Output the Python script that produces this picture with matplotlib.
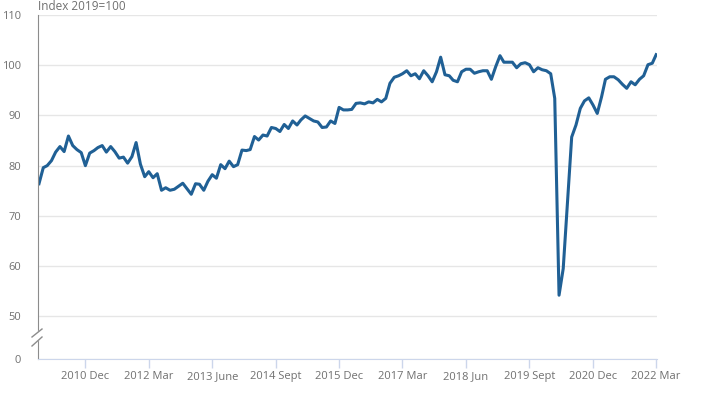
import numpy as np
import pandas as pd
import matplotlib
matplotlib.use("Agg")
import matplotlib.pyplot as plt

plt.rcParams['font.family'] = ['Open Sans', 'DejaVu Sans']

# monthly index, Jan 2010 - Mar 2022 (2019=100)
values = [
    76.4, 79.6, 80.0, 81.0, 82.7, 83.8, 82.8, 85.9, 84.0, 83.2, 82.6, 80.0,
    82.5, 83.0, 83.6, 84.0, 82.7, 83.8, 82.8, 81.5, 81.7, 80.5, 81.8, 84.6,
    80.3, 77.8, 78.8, 77.6, 78.4, 75.1, 75.6, 75.1, 75.3, 75.9, 76.5, 75.4,
    74.3, 76.4, 76.3, 75.1, 76.9, 78.2, 77.5, 80.2, 79.4, 80.9, 79.8, 80.2,
    83.1, 83.0, 83.2, 85.8, 85.1, 86.1, 85.9, 87.6, 87.4, 86.8, 88.2, 87.4,
    88.9, 88.1, 89.1, 89.9, 89.4, 88.9, 88.7, 87.6, 87.7, 88.9, 88.4, 91.6,
    91.1, 91.1, 91.2, 92.4, 92.5, 92.3, 92.7, 92.5, 93.2, 92.7, 93.4, 96.4,
    97.6, 97.9, 98.3, 98.9, 97.9, 98.3, 97.3, 98.9, 97.9, 96.7, 98.7, 101.6,
    98.1, 97.9, 97.0, 96.7, 98.7, 99.2, 99.2, 98.4, 98.7, 98.9, 98.9, 97.2,
    99.7, 101.9, 100.6, 100.6, 100.6, 99.5, 100.3, 100.5, 100.1, 98.7, 99.5, 99.1,
    98.9, 98.3, 93.4, 54.2, 59.5, 72.8, 85.7, 88.1, 91.4, 92.9, 93.5, 92.1,
    90.4, 93.7, 97.2, 97.7, 97.7, 97.1, 96.2, 95.4, 96.7, 96.1, 97.2, 97.9,
    100.1, 100.4, 102.1,
]
months = pd.date_range('2010-01-01', periods=len(values), freq='MS')

tick_dates = ['2010-12', '2012-03', '2013-06', '2014-09', '2015-12',
              '2017-03', '2018-06', '2019-09', '2020-12', '2022-03']
tick_labels = ['2010 Dec', '2012 Mar', '2013 June', '2014 Sept', '2015 Dec',
               '2017 Mar', '2018 Jun', '2019 Sept', '2020 Dec', '2022 Mar']
y_ticks = [0, 50, 60, 70, 80, 90, 100, 110]

# broken y axis: 0..50 squeezed into a short band
lo, k = 41.5, 8.5 / 50.0
def fwd(v):
    v = np.asarray(v, dtype=float)
    return np.where(v >= 50, v, lo + v * k)
def inv(u):
    u = np.asarray(u, dtype=float)
    return np.where(u >= 50, u, (u - lo) / k)

txt = '#707070'
fig = plt.figure(figsize=(7.09, 3.95), dpi=100)
ax = fig.add_axes([38/709, 1-359/395, (657-38)/709, (359-15)/395])

ax.plot(months, values, color='#206095', lw=2.2, solid_joinstyle='round')

ax.set_yscale('function', functions=(fwd, inv))
ax.set_ylim(0, 110)
ax.set_yticks(y_ticks)
ax.set_yticklabels([str(t) for t in y_ticks])
ax.set_xlim(months[0] - pd.Timedelta(days=7), months[-1] + pd.Timedelta(days=6))
ax.set_xticks([pd.Timestamp(d) for d in tick_dates])
ax.set_xticklabels(tick_labels)

ax.grid(axis='y', color='#e6e6e6', lw=1)
ax.set_axisbelow(True)
for s in ['top', 'right']:
    ax.spines[s].set_visible(False)
ax.spines['left'].set_color('#8c8c8c')
ax.spines['bottom'].set_color('#ccd6eb')
ax.tick_params(axis='y', length=0, pad=12, labelsize=8, labelcolor=txt)
ax.tick_params(axis='x', length=6.5, width=1, color='#ccd6eb', pad=2,
               labelsize=8, labelcolor=txt)

# axis break marks
bx = [32/709, 42/709]
fig.patches.append(plt.Polygon([[bx[0], 1-337/395], [bx[1], 1-329/395],
                                [bx[1], 1-337/395], [bx[0], 1-346/395]],
                               closed=True, transform=fig.transFigure,
                               color='white', zorder=5))
for y0, y1 in [(337, 329), (346, 337)]:
    fig.add_artist(plt.Line2D(bx, [1-y0/395, 1-y1/395], color='#8c8c8c',
                              lw=1, transform=fig.transFigure, zorder=6))

# title sits partly above the canvas, as in the source
fig.text(38/709, 1-9.5/395, 'Index 2019=100', color=txt, fontsize=8.5,
         va='baseline', ha='left')

fig.savefig('out.png', dpi=100)
